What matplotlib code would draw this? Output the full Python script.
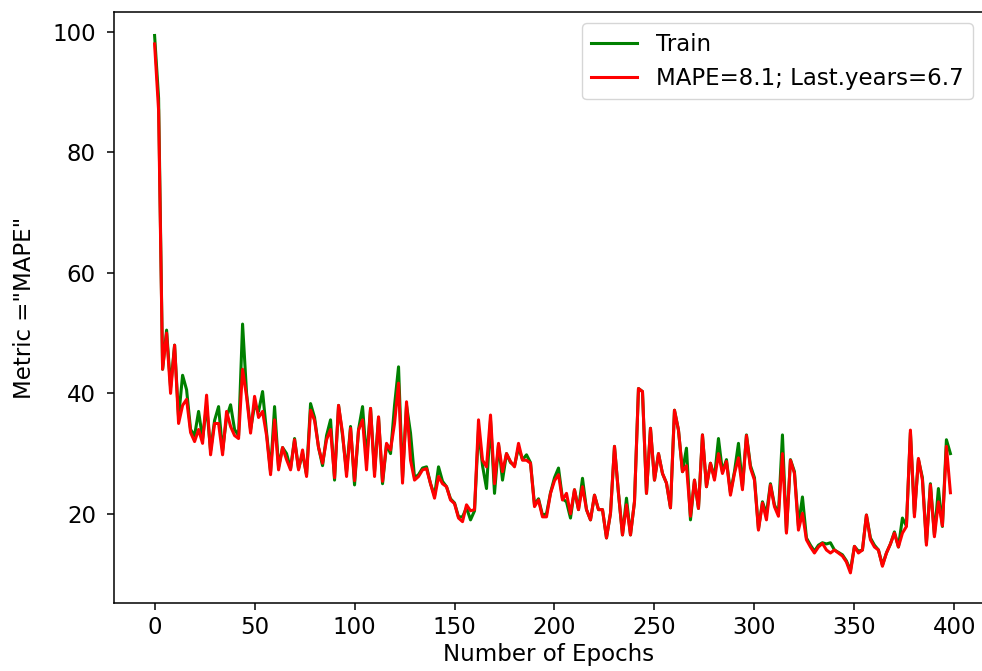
import matplotlib
matplotlib.use("Agg")
import matplotlib.pyplot as plt

epochs = list(range(0, 400, 2))

train = [
    99.4, 89.0, 44.0, 50.5, 41.0, 48.0, 36.0, 43.0, 40.6, 34.0,
    33.0, 37.0, 32.5, 38.0, 30.5, 35.5, 37.8, 30.5, 36.0, 38.1,
    34.0, 33.0, 51.5, 40.0, 34.0, 38.0, 37.0, 40.3, 33.5, 27.0,
    37.8, 27.8, 31.0, 30.0, 27.5, 32.5, 27.5, 30.0, 26.5, 38.3,
    36.0, 31.0, 28.0, 33.0, 35.6, 25.6, 38.0, 33.0, 27.0, 34.5,
    24.8, 34.0, 37.8, 29.0, 37.5, 27.0, 36.0, 25.0, 31.5, 30.0,
    38.0, 44.4, 26.0, 38.0, 33.4, 26.0, 26.5, 27.6, 27.8, 25.0,
    23.0, 27.8, 25.4, 24.5, 22.5, 21.8, 19.5, 19.5, 21.0, 19.0,
    20.5, 34.0, 28.0, 24.2, 35.5, 23.4, 31.5, 25.6, 30.0, 28.5,
    28.0, 31.0, 29.0, 29.8, 28.5, 21.5, 22.5, 19.8, 20.0, 23.5,
    26.0, 27.6, 22.5, 22.0, 19.3, 24.0, 20.7, 25.9, 20.7, 19.0,
    23.1, 20.7, 20.7, 16.0, 20.1, 31.2, 23.4, 16.5, 22.6, 16.5,
    22.0, 40.8, 40.3, 23.4, 34.2, 25.6, 30.0, 26.7, 25.1, 21.0,
    37.2, 33.9, 27.0, 30.9, 19.0, 25.6, 20.9, 33.1, 24.5, 28.4,
    26.0, 32.5, 27.0, 29.0, 23.5, 27.0, 31.7, 24.5, 33.1, 28.0,
    26.0, 17.5, 22.0, 20.0, 25.0, 21.5, 20.0, 33.1, 17.0, 29.0,
    27.0, 18.0, 22.8, 16.0, 14.8, 13.8, 14.8, 15.2, 15.0, 15.2,
    14.0, 13.6, 13.2, 12.2, 10.6, 14.6, 13.8, 14.0, 19.8, 16.0,
    14.8, 14.0, 11.5, 13.5, 15.0, 17.0, 14.5, 19.3, 18.0, 33.5,
    20.0, 29.0, 26.0, 15.2, 25.0, 16.5, 24.2, 17.9, 32.3, 30.0,
]

mape = [
    98.0, 87.0, 44.0, 50.0, 40.0, 48.0, 35.0, 38.0, 39.0, 33.5,
    32.0, 34.0, 31.7, 39.7, 29.8, 35.0, 35.0, 29.8, 37.0, 34.5,
    33.0, 32.5, 44.0, 39.5, 33.4, 39.5, 36.0, 37.0, 33.0, 26.5,
    35.6, 27.3, 31.0, 29.0, 27.3, 32.3, 27.3, 30.6, 26.2, 37.2,
    35.5, 31.0, 28.4, 32.3, 34.0, 26.0, 38.0, 33.4, 26.2, 34.2,
    25.5, 33.9, 35.6, 27.3, 37.5, 26.2, 36.1, 25.4, 31.7, 30.6,
    35.0, 41.7, 25.1, 38.6, 28.9, 25.6, 26.2, 27.3, 27.5, 25.0,
    22.6, 26.2, 25.0, 24.5, 22.3, 21.7, 19.3, 18.7, 21.5, 20.5,
    20.7, 35.6, 28.9, 27.8, 36.4, 25.0, 31.7, 27.0, 30.0, 28.7,
    27.8, 31.7, 28.9, 28.9, 28.4, 21.2, 22.3, 19.5, 19.5, 23.4,
    25.5, 26.5, 22.3, 23.4, 20.0, 24.0, 20.7, 24.5, 20.7, 19.0,
    23.1, 20.7, 20.7, 16.0, 20.1, 31.2, 23.4, 16.5, 21.5, 16.5,
    22.0, 40.8, 40.3, 23.4, 34.2, 25.6, 30.0, 26.7, 25.1, 21.0,
    37.2, 33.9, 27.0, 28.0, 19.6, 25.6, 20.9, 33.1, 24.5, 28.4,
    25.6, 30.0, 26.7, 28.7, 23.1, 26.7, 29.3, 24.0, 33.0, 27.6,
    25.6, 17.3, 21.8, 19.0, 24.8, 21.2, 19.6, 30.0, 16.8, 28.9,
    26.7, 17.3, 20.1, 15.7, 14.5, 13.5, 14.5, 15.1, 14.0, 13.5,
    14.0, 13.5, 13.0, 12.0, 10.2, 14.6, 13.5, 14.0, 19.8, 15.7,
    14.5, 14.0, 11.3, 13.5, 15.0, 16.8, 14.5, 16.8, 17.9, 33.9,
    19.5, 29.2, 25.6, 14.8, 24.8, 16.2, 22.0, 18.0, 31.2, 23.5,
]

labels = ["Train", "MAPE=8.1; Last.years=6.7"]
xticks = [0, 50, 100, 150, 200, 250, 300, 350, 400]
yticks = [20, 40, 60, 80, 100]

fs = 16.5
fig = plt.figure(figsize=(9.82, 6.71), dpi=100)
ax = fig.add_axes([114 / 982, 1 - 603 / 671, (984 - 114) / 982, (603 - 12) / 671])
ax.plot(epochs, train, color="green", lw=2.2, label=labels[0])
ax.plot(epochs, mape, color="red", lw=2.2, label=labels[1])
ax.set_xlim(-20.3, 414.8)
ax.set_ylim(5.2, 103.3)
ax.set_xticks(xticks)
ax.set_yticks(yticks)
ax.tick_params(labelsize=fs, length=5, width=1.1)
ax.tick_params(axis="x", pad=4)
ax.tick_params(axis="y", pad=8)
for s in ax.spines.values():
    s.set_linewidth(1.1)
ax.set_xlabel("Number of Epochs", fontsize=fs, labelpad=3)
ax.set_ylabel('Metric ="MAPE"', fontsize=fs, labelpad=12)
ax.legend(loc="upper right", fontsize=fs)
fig.savefig("out.png", dpi=100)
